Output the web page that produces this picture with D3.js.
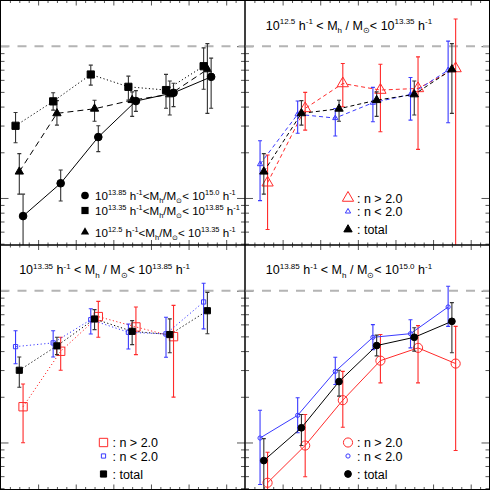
<!DOCTYPE html>
<html>
<head>
<meta charset="utf-8">
<script src="https://cdn.jsdelivr.net/npm/d3@7"></script>
<style>
  body { margin: 0; background: #fff; }
  text { font-family: "Liberation Sans", Arial, sans-serif; fill: #000; }
</style>
</head>
<body>
<script>
'use strict';

// six radial bins, samples are shifted a little left / right of the bin centre
const bins = [0.5, 1.5, 2.5, 3.5, 4.5, 5.5];

// 10^12.5 - 10^13.35 halo mass bin
const lowTotal = [0.149, 0.361, 0.387, 0.441, 0.481, 0.703];
const lowTotalLo = [0.106, 0.302, 0.32, 0.345, 0.352, 0.361];
const lowTotalHi = [0.196, 0.438, 0.44, 0.50, 0.59, 1.04];
const lowHighN = [0.126, 0.389, 0.568, 0.514, 0.527, 0.713];
const lowHighNLo = [0.062, 0.280, 0.399, 0.273, 0.209, 0.03];
const lowHighNHi = [0.192, 0.496, 0.769, 0.761, 0.851, 1.51];
const lowLowN = [0.167, 0.356, 0.336, 0.424, 0.481, 0.695];
const lowLowNLo = [0.096, 0.267, 0.256, 0.318, 0.326, 0.313];
const lowLowNHi = [0.238, 0.435, 0.389, 0.535, 0.622, 1.08];

// 10^13.35 - 10^13.85
const midTotal = [0.299, 0.433, 0.651, 0.540, 0.514, 0.738];
const midTotalLo = [0.231, 0.379, 0.554, 0.441, 0.39, 0.52];
const midTotalHi = [0.366, 0.493, 0.750, 0.635, 0.652, 0.975];
const midHighN = [0.172, 0.399, 0.675, 0.577, 0.498];
const midHighNLo = [0.0995, 0.299, 0.493, 0.379, 0.199];
const midHighNHi = [0.243, 0.493, 0.851, 0.781, 0.800];
const midLowN = [0.428, 0.453, 0.644, 0.532, 0.519, 0.843];
const midLowNLo = [0.330, 0.366, 0.519, 0.413, 0.364, 0.560];
const midLowNHi = [0.545, 0.545, 0.761, 0.604, 0.668, 1.12];

// 10^13.85 - 10^15.0
const highTotal = [0.076, 0.125, 0.252, 0.435, 0.493, 0.628];
const highTotalLo = [0.04, 0.0955, 0.202, 0.372, 0.40, 0.39];
const highTotalHi = [0.106, 0.153, 0.299, 0.51, 0.57, 0.835];
const highHighN = [0.0543, 0.0955, 0.190, 0.346, 0.420, 0.331];
const highHighNLo = [0.04, 0.0595, 0.126, 0.247, 0.247, 0.0886];
const highHighNHi = [0.0863, 0.153, 0.294, 0.514, 0.589, 0.582];
const highLowN = [0.107, 0.151, 0.294, 0.493, 0.521, 0.781];
const highLowNLo = [0.0529, 0.116, 0.241, 0.409, 0.420, 0.582];
const highLowNHi = [0.163, 0.197, 0.364, 0.598, 0.644, 1.07];

// axis ticks
const yMajor = [0.1, 1];
const yMinor = [0.05, 0.06, 0.07, 0.08, 0.09, 0.2, 0.3, 0.4, 0.5, 0.6, 0.7, 0.8, 0.9];
const xMajor = [1, 2, 3, 4, 5, 6];
const xMinor = d3.range(0.25, 6.5, 0.25).filter(v => v % 1 !== 0);

const nLabels = [': n > 2.0', ': n < 2.0', ': total'];

const red = '#ff2a2a';
const blue = '#3a3aff';

const svg = d3.select('body').append('svg')
  .attr('width', 490)
  .attr('height', 490);

// text with superscripts and subscripts
function richText(g, x, y, parts, size, anchor) {
  let t = g.append('text')
    .attr('x', x)
    .attr('y', y)
    .attr('font-size', size)
    .attr('text-anchor', anchor || 'start');
  let shift = 0;
  parts.forEach(p => {
    let target = p[1] === 'sup' ? -size * 0.42 : (p[1] === 'sub' ? size * 0.28 : 0);
    t.append('tspan')
      .attr('dy', target - shift)
      .attr('font-size', p[1] ? size * 0.64 : size)
      .text(p[0]);
    shift = target;
  });
}

function massLabel(a, b, spaced) {
  let sp = spaced ? ' ' : '';
  return [['10'], [a, 'sup'], [' h'], ['-1', 'sup'], [sp + '<' + sp + 'M'], ['h', 'sub'],
          [sp + '/' + sp + 'M'], ['\u2299', 'sub'], ['< 10'], [b, 'sup'], [' h'], ['-1', 'sup']];
}

function series(vals, lo, hi, off, shape, size, color, open, dash) {
  return { vals: vals, lo: lo, hi: hi, off: off, shape: shape, size: size,
           color: color, open: open, dash: dash };
}

const panels = [
  { x0: 0.5, y0: 0.5, title: null,
    series: [
      series(lowTotal, lowTotalLo, lowTotalHi, 0, d3.symbolTriangle, 30, '#000', false, '6,4'),
      series(midTotal, midTotalLo, midTotalHi, -0.1, d3.symbolSquare, 52, '#000', false, '1.2,2.4'),
      series(highTotal, highTotalLo, highTotalHi, 0.1, d3.symbolCircle, 46, '#000', false, null)
    ] },
  { x0: 245, y0: 0.5, title: massLabel('12.5', '13.35', true),
    series: [
      series(lowHighN, lowHighNLo, lowHighNHi, 0.1, d3.symbolTriangle, 55, red, true, '4,3'),
      series(lowLowN, lowLowNLo, lowLowNHi, -0.1, d3.symbolTriangle, 12, blue, true, '4,3'),
      series(lowTotal, lowTotalLo, lowTotalHi, 0, d3.symbolTriangle, 30, '#000', false, '4,3')
    ] },
  { x0: 0.5, y0: 245, title: massLabel('13.35', '13.85', true),
    series: [
      series(midHighN, midHighNLo, midHighNHi, 0.1, d3.symbolSquare, 70, red, true, '1.2,2.4'),
      series(midLowN, midLowNLo, midLowNHi, -0.1, d3.symbolSquare, 18, blue, true, '1.2,2.4'),
      series(midTotal, midTotalLo, midTotalHi, 0, d3.symbolSquare, 38, '#000', false, '1.2,2.4')
    ] },
  { x0: 245, y0: 245, title: massLabel('13.85', '15.0', true),
    series: [
      series(highHighN, highHighNLo, highHighNHi, 0.1, d3.symbolCircle, 66, red, true, null),
      series(highLowN, highLowNLo, highLowNHi, -0.1, d3.symbolCircle, 14, blue, true, null),
      series(highTotal, highTotalLo, highTotalHi, 0, d3.symbolCircle, 36, '#000', false, null)
    ] }
];

const pw = 244.5;
const ph = 244.5;

panels.forEach((p, pi) => {
  let x = d3.scaleLinear().domain([0, 6.5]).range([p.x0, p.x0 + pw]);
  let y = d3.scaleLog().domain([0.049, 2.0]).range([p.y0 + ph, p.y0]);
  let g = svg.append('g');

  g.append('clipPath').attr('id', 'clip' + pi)
    .append('rect')
      .attr('x', p.x0).attr('y', p.y0)
      .attr('width', pw).attr('height', ph);

  // inward ticks on all four sides
  let tickSets = [
    [d3.axisLeft(y).tickValues(yMajor).tickSize(-8), 'translate(' + p.x0 + ',0)'],
    [d3.axisLeft(y).tickValues(yMinor).tickSize(-4), 'translate(' + p.x0 + ',0)'],
    [d3.axisRight(y).tickValues(yMajor).tickSize(-8), 'translate(' + (p.x0 + pw) + ',0)'],
    [d3.axisRight(y).tickValues(yMinor).tickSize(-4), 'translate(' + (p.x0 + pw) + ',0)'],
    [d3.axisTop(x).tickValues(xMajor).tickSize(-5), 'translate(0,' + p.y0 + ')'],
    [d3.axisTop(x).tickValues(xMinor).tickSize(-2.5), 'translate(0,' + p.y0 + ')'],
    [d3.axisBottom(x).tickValues(xMajor).tickSize(-5), 'translate(0,' + (p.y0 + ph) + ')'],
    [d3.axisBottom(x).tickValues(xMinor).tickSize(-2.5), 'translate(0,' + (p.y0 + ph) + ')']
  ];
  tickSets.forEach(t => {
    let a = g.append('g').attr('transform', t[1]).call(t[0].tickFormat(''));
    a.select('.domain').remove();
    a.selectAll('line').attr('stroke', '#555');
  });

  // dashed reference line at 1
  g.append('line')
    .attr('x1', p.x0).attr('x2', p.x0 + pw)
    .attr('y1', y(1)).attr('y2', y(1))
    .attr('stroke', '#b4b4b4')
    .attr('stroke-width', 2)
    .attr('stroke-dasharray', '9,8');

  let plot = g.append('g').attr('clip-path', 'url(#clip' + pi + ')');

  p.series.forEach(s => {
    let pts = s.vals.map((v, i) => ({ x: bins[i] + s.off, v: v, lo: s.lo[i], hi: s.hi[i] }));

    plot.append('path')
      .datum(pts)
      .attr('fill', 'none')
      .attr('stroke', s.color)
      .attr('stroke-width', 1)
      .attr('stroke-dasharray', s.dash)
      .attr('d', d3.line().x(d => x(d.x)).y(d => y(d.v)));

    let bars = plot.append('g')
      .attr('stroke', s.color === '#000' ? '#333' : s.color)
      .attr('stroke-width', 1.1);
    bars.selectAll('.bar').data(pts).enter().append('line')
      .attr('x1', d => x(d.x)).attr('x2', d => x(d.x))
      .attr('y1', d => y(d.lo)).attr('y2', d => y(d.hi));
    bars.selectAll('.capLo').data(pts).enter().append('line')
      .attr('x1', d => x(d.x) - 2).attr('x2', d => x(d.x) + 2)
      .attr('y1', d => y(d.lo)).attr('y2', d => y(d.lo));
    bars.selectAll('.capHi').data(pts).enter().append('line')
      .attr('x1', d => x(d.x) - 2).attr('x2', d => x(d.x) + 2)
      .attr('y1', d => y(d.hi)).attr('y2', d => y(d.hi));

    plot.selectAll('.mark').data(pts).enter().append('path')
      .attr('transform', d => 'translate(' + x(d.x) + ',' + y(d.v) + ')')
      .attr('d', d3.symbol().type(s.shape).size(s.size))
      .attr('fill', s.open ? 'none' : s.color)
      .attr('stroke', s.color)
      .attr('stroke-width', 1);
  });

  // frame
  g.append('rect')
    .attr('x', p.x0).attr('y', p.y0)
    .attr('width', pw).attr('height', ph)
    .attr('fill', 'none')
    .attr('stroke', '#000')
    .attr('stroke-width', 1);

  if (p.title) {
    richText(g, p.x0 + 104, p.y0 + 29, p.title, 12.5, 'middle');
    // legend
    let lx = p.x0 + 103;
    let ly = [p.y0 + 197.5, p.y0 + 211, p.y0 + 229];
    p.series.forEach((s, i) => {
      g.append('path')
        .attr('transform', 'translate(' + lx + ',' + ly[i] + ')')
        .attr('d', d3.symbol().type(s.shape).size(s.size))
        .attr('fill', s.open ? 'none' : s.color)
        .attr('stroke', s.color);
      g.append('text')
        .attr('x', lx + 9)
        .attr('y', ly[i] + 4.5)
        .attr('font-size', 12.5)
        .text(nLabels[i]);
    });
  } else {
    // top-left legend lists the three mass bins
    let legend = [
      [p.series[2], massLabel('13.85', '15.0', false), 195.5],
      [p.series[1], massLabel('13.35', '13.85', false), 210.5],
      [p.series[0], massLabel('12.5', '13.35', false), 232]
    ];
    legend.forEach(l => {
      g.append('path')
        .attr('transform', 'translate(85,' + l[2] + ')')
        .attr('d', d3.symbol().type(l[0].shape).size(l[0].size))
        .attr('fill', '#000');
      richText(g, 95, l[2] + 4.5, l[1], 11.6, 'start');
    });
  }
});
</script>
</body>
</html>
